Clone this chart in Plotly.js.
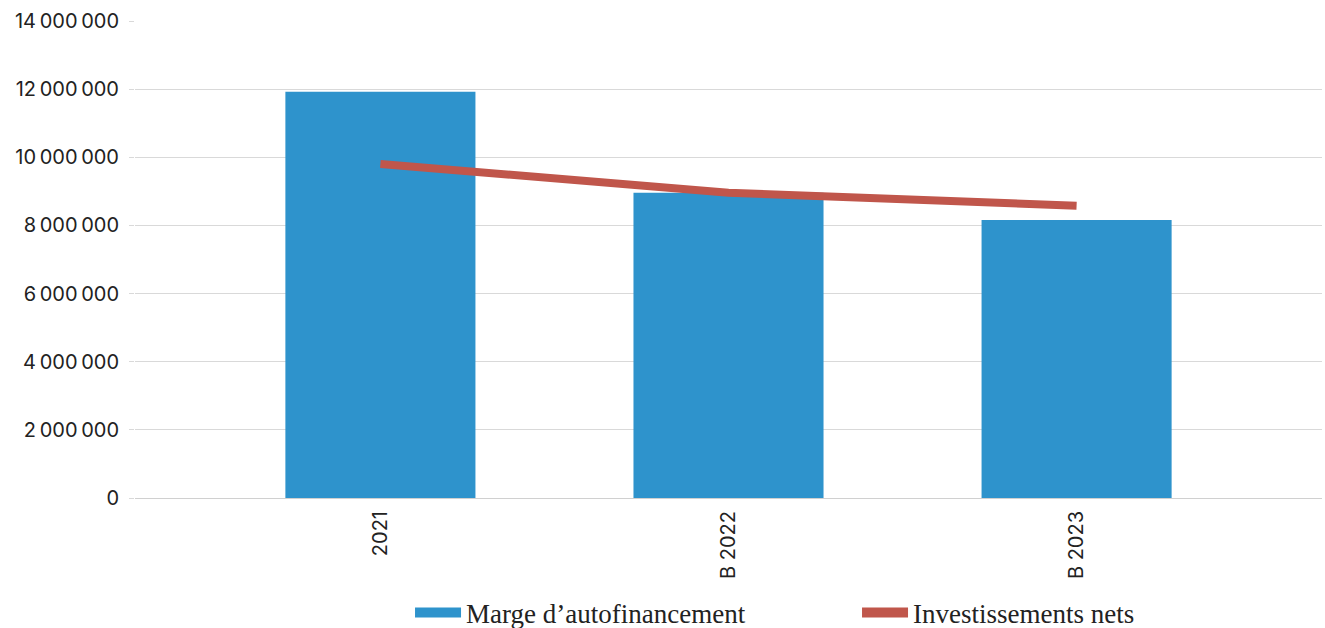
<!DOCTYPE html>
<html>
<head>
<meta charset="utf-8">
<script src="https://cdn.plot.ly/plotly-3.0.1.min.js"></script>
<style>html,body{margin:0;padding:0;background:#fff;}#chart{width:1325px;height:628px;}</style>
</head>
<body>
<div id="chart"></div>
<script>
const categories = ["2021", "B 2022", "B 2023"];
const margeAutofinancement = [11920000, 8960000, 8160000];
const investissementsNets = [9800000, 8960000, 8580000];
const seriesNames = ["Marge d’autofinancement", "Investissements nets"];
const yTicks = [0, 2000000, 4000000, 6000000, 8000000, 10000000, 12000000, 14000000];

const blue = "#2e93cc";
const red = "#c0564b";

const traces = [
  {type: "bar", x: categories, y: margeAutofinancement, marker: {color: blue}, width: 0.546, showlegend: false, hoverinfo: "y"},
  {type: "scatter", mode: "lines", x: categories, y: investissementsNets, line: {color: red, width: 8}, showlegend: false, hoverinfo: "y"},
  {type: "scatter", mode: "lines", x: [null], y: [null], name: seriesNames[0], line: {color: blue, width: 10}},
  {type: "scatter", mode: "lines", x: [null], y: [null], name: seriesNames[1], line: {color: red, width: 10}}
];

const layout = {
  width: 1325, height: 628,
  margin: {l: 135, r: 3, t: 21, b: 130, autoexpand: false},
  paper_bgcolor: "#fff", plot_bgcolor: "#fff",
  separators: ",\u202f",
  font: {family: "Inter, 'Liberation Sans', sans-serif", size: 20, color: "#222"},
  xaxis: {
    type: "category", range: [-0.705, 2.705],
    tickangle: -90, showgrid: false, zeroline: false, automargin: false,
    showline: true, linecolor: "#d0d0d0", linewidth: 1,
    ticks: "", ticklabelstandoff: 4, tickfont: {size: 20, color: "#222"}
  },
  yaxis: {
    range: [0, 14000000], tickvals: yTicks, tickformat: ",d", automargin: false,
    showgrid: true, gridcolor: "#d9d9d9", gridwidth: 1,
    zeroline: false, showline: false,
    ticks: "outside", ticklen: 5, tickcolor: "#d9d9d9", ticklabelstandoff: 6,
    tickfont: {size: 20, color: "#222"}
  },
  showlegend: true,
  legend: {
    orientation: "h", x: 0.2317, xanchor: "left",
    yref: "container", y: 0.024, yanchor: "middle",
    font: {family: "'Liberation Serif', 'DejaVu Serif', serif", size: 27, color: "#222"},
    entrywidth: 386, itemwidth: 46, bgcolor: "rgba(0,0,0,0)"
  },
  hovermode: false
};

Plotly.newPlot("chart", traces, layout, {displayModeBar: false, staticPlot: true});
</script>
</body>
</html>
